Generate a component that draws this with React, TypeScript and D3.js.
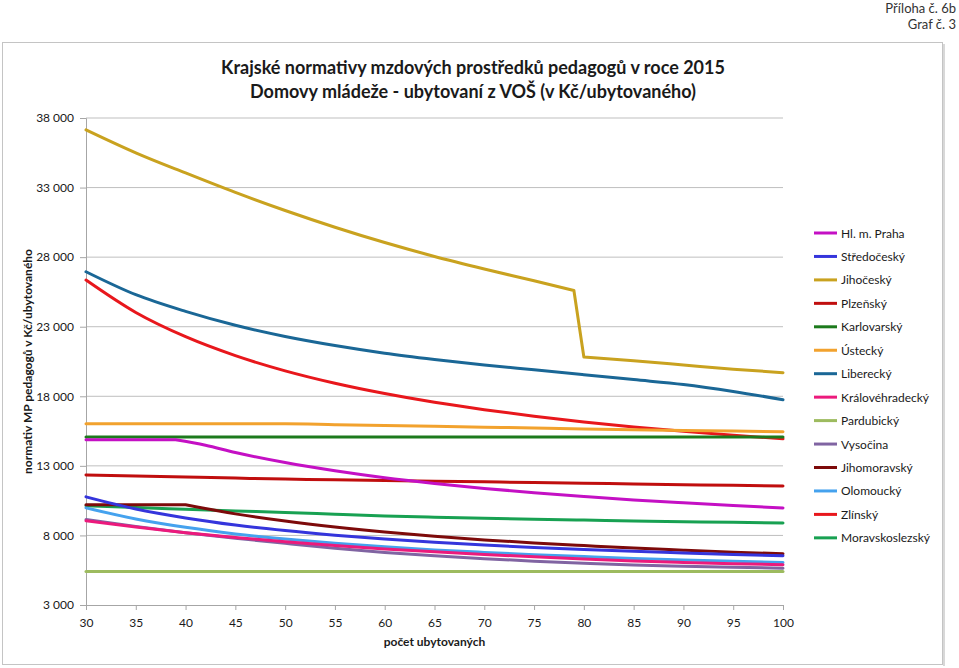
import { useEffect, useRef } from "react";
import * as d3 from "d3";

// x values (počet ubytovaných)
const X_BASE = [30, 35, 40, 45, 50, 55, 60, 65, 70, 75, 80, 85, 90, 95, 100];
const X_JIHOCESKY = [30, 35, 40, 45, 50, 55, 60, 65, 70, 75, 79, 80, 85, 90, 95, 100];
const X_PRAHA = [30, 35, 39, 42, 45, 50, 55, 60, 65, 70, 75, 80, 85, 90, 95, 100];

const PRAHA = [14870, 14870, 14870, 14480, 13960, 13240, 12650, 12150, 11740, 11380, 11070, 10800, 10550, 10340, 10150, 9980];
const STREDOCESKY = [10770, 9900, 9260, 8750, 8350, 8020, 7740, 7510, 7310, 7140, 6990, 6860, 6740, 6630, 6535];
const JIHOCESKY = [37150, 35500, 34050, 32650, 31350, 30150, 29050, 28050, 27150, 26300, 25600, 20830, 20550, 20250, 19950, 19700];
const PLZENSKY = [12350, 12270, 12200, 12120, 12050, 12000, 11950, 11900, 11850, 11800, 11750, 11700, 11650, 11600, 11560];
const KARLOVARSKY = [15080, 15080, 15080, 15080, 15080, 15080, 15080, 15080, 15080, 15080, 15080, 15080, 15080, 15080, 15080];
const USTECKY = [16020, 16020, 16020, 16020, 16020, 15960, 15900, 15840, 15780, 15720, 15650, 15600, 15550, 15500, 15450];
const LIBERECKY = [26950, 25300, 24100, 23100, 22300, 21650, 21100, 20650, 20250, 19900, 19550, 19200, 18850, 18350, 17750];
const KRALOVEHRADECKY = [9050, 8600, 8200, 7850, 7550, 7280, 7030, 6820, 6630, 6460, 6310, 6170, 6060, 5970, 5890];
const PARDUBICKY = [5410, 5410, 5410, 5410, 5410, 5410, 5410, 5410, 5410, 5410, 5410, 5410, 5410, 5410, 5410];
const VYSOCINA = [9150, 8650, 8200, 7800, 7430, 7080, 6780, 6540, 6330, 6150, 6000, 5870, 5780, 5710, 5650];
const JIHOMORAVSKY = [10200, 10200, 10200, 9550, 9030, 8600, 8240, 7940, 7680, 7460, 7270, 7090, 6940, 6800, 6680];
const OLOMOUCKY = [9980, 9180, 8580, 8110, 7740, 7430, 7180, 6960, 6780, 6620, 6480, 6350, 6240, 6140, 6055];
const ZLINSKY = [26350, 24020, 22280, 20920, 19830, 18940, 18200, 17570, 17040, 16570, 16160, 15800, 15480, 15200, 14940];
const MORAVSKOSLEZSKY = [10130, 10000, 9880, 9760, 9650, 9520, 9400, 9310, 9230, 9160, 9100, 9040, 8990, 8940, 8900];

const Y_TICKS = [3000, 8000, 13000, 18000, 23000, 28000, 33000, 38000];
const X_TICKS = [30, 35, 40, 45, 50, 55, 60, 65, 70, 75, 80, 85, 90, 95, 100];

// splits: indices of points where the curve has a sharp corner
type Series = { name: string; color: string; xs: number[]; ys: number[]; splits?: number[] };

const SERIES: Series[] = [
  { name: "Hl. m. Praha", color: "#C410C4", xs: X_PRAHA, ys: PRAHA, splits: [2] },
  { name: "Středočeský", color: "#3535DC", xs: X_BASE, ys: STREDOCESKY },
  { name: "Jihočeský", color: "#C9A21F", xs: X_JIHOCESKY, ys: JIHOCESKY, splits: [10, 11] },
  { name: "Plzeňský", color: "#C00E0E", xs: X_BASE, ys: PLZENSKY },
  { name: "Karlovarský", color: "#1C7A1C", xs: X_BASE, ys: KARLOVARSKY },
  { name: "Ústecký", color: "#F2A22E", xs: X_BASE, ys: USTECKY },
  { name: "Liberecký", color: "#1A6796", xs: X_BASE, ys: LIBERECKY },
  { name: "Královéhradecký", color: "#EC1A7C", xs: X_BASE, ys: KRALOVEHRADECKY },
  { name: "Pardubický", color: "#9DBB5F", xs: X_BASE, ys: PARDUBICKY },
  { name: "Vysočina", color: "#8064A2", xs: X_BASE, ys: VYSOCINA },
  { name: "Jihomoravský", color: "#7D0A0A", xs: X_BASE, ys: JIHOMORAVSKY, splits: [2] },
  { name: "Olomoucký", color: "#45A2EE", xs: X_BASE, ys: OLOMOUCKY },
  { name: "Zlínský", color: "#E8171C", xs: X_BASE, ys: ZLINSKY },
  { name: "Moravskoslezský", color: "#18A152", xs: X_BASE, ys: MORAVSKOSLEZSKY },
];

const FONT = "Lato, 'Open Sans', sans-serif";

export default function App() {
  const svgRef = useRef<SVGSVGElement | null>(null);

  useEffect(() => {
    if (!svgRef.current) return;
    const W = 959, H = 668;
    const svg = d3.select(svgRef.current);
    svg.selectAll("*").remove();
    svg.attr("width", W).attr("height", H).attr("viewBox", `0 0 ${W} ${H}`);

    svg.append("rect").attr("width", W).attr("height", H).attr("fill", "#fff");

    // page header
    svg.append("text").attr("x", 956).attr("y", 13).attr("text-anchor", "end")
      .attr("font-family", FONT).attr("font-size", 13).attr("fill", "#333").text("Příloha č. 6b");
    svg.append("text").attr("x", 956).attr("y", 29).attr("text-anchor", "end")
      .attr("font-family", FONT).attr("font-size", 13).attr("fill", "#333").text("Graf č. 3");

    // chart frame
    svg.append("rect").attr("x", 2.5).attr("y", 42.5).attr("width", 940).attr("height", 622)
      .attr("fill", "none").attr("stroke", "#c4c4c4").attr("stroke-width", 1);
    svg.append("line").attr("x1", 944).attr("x2", 944).attr("y1", 44).attr("y2", 666)
      .attr("stroke", "#d8d8d8").attr("stroke-width", 2);

    // titles
    svg.append("text").attr("x", 473).attr("y", 74).attr("text-anchor", "middle")
      .attr("font-family", FONT).attr("font-weight", 700).attr("font-size", 18).attr("fill", "#1a1a1a")
      .text("Krajské normativy mzdových prostředků pedagogů v roce 2015");
    svg.append("text").attr("x", 473).attr("y", 98).attr("text-anchor", "middle")
      .attr("font-family", FONT).attr("font-weight", 700).attr("font-size", 18).attr("fill", "#1a1a1a")
      .text("Domovy mládeže - ubytovaní z VOŠ (v Kč/ubytovaného)");

    const left = 86, right = 783, top = 118, bottom = 605;
    const x = d3.scaleLinear().domain([30, 100]).range([left, right]);
    const y = d3.scaleLinear().domain([3000, 38000]).range([bottom, top]);

    // gridlines
    svg.append("g").selectAll("line").data(Y_TICKS.slice(1)).join("line")
      .attr("x1", left).attr("x2", right)
      .attr("y1", (d) => y(d)).attr("y2", (d) => y(d))
      .attr("stroke", "#bfbfbf").attr("stroke-width", 1);

    // y axis
    const yAxis = svg.append("g").attr("transform", `translate(${left},0)`)
      .call(d3.axisLeft(y).tickValues(Y_TICKS).tickSize(6).tickPadding(6)
        .tickFormat((d) => d3.format(",")(d as number).replace(/,/g, " ")));
    yAxis.select(".domain").attr("stroke", "#a6a6a6");
    yAxis.selectAll(".tick line").attr("stroke", "#a6a6a6");
    yAxis.selectAll("text").attr("font-family", FONT).attr("font-size", 12).attr("fill", "#1a1a1a");

    // x axis
    const xAxis = svg.append("g").attr("transform", `translate(0,${bottom})`)
      .call(d3.axisBottom(x).tickValues(X_TICKS).tickSize(5).tickSizeOuter(0).tickPadding(8));
    xAxis.select(".domain").attr("stroke", "#a6a6a6");
    xAxis.selectAll(".tick line").attr("stroke", "#a6a6a6");
    xAxis.selectAll("text").attr("font-family", FONT).attr("font-size", 12).attr("fill", "#1a1a1a");

    // axis titles
    svg.append("text").attr("x", (left + right) / 2).attr("y", 646).attr("text-anchor", "middle")
      .attr("font-family", FONT).attr("font-weight", 700).attr("font-size", 12).attr("fill", "#1a1a1a")
      .text("počet ubytovaných");
    svg.append("text").attr("transform", `translate(32,${(top + bottom) / 2}) rotate(-90)`)
      .attr("text-anchor", "middle")
      .attr("font-family", FONT).attr("font-weight", 700).attr("font-size", 12).attr("fill", "#1a1a1a")
      .text("normativ MP pedagogů v Kč/ubytovaného");

    // lines: smooth pieces, split at the sharp corners
    const smooth = d3.line<[number, number]>()
      .x((d) => x(d[0])).y((d) => y(d[1]))
      .curve(d3.curveMonotoneX);
    const drawOrder = [...SERIES].reverse();
    for (const s of drawOrder) {
      const pts = s.xs.map((xv, i) => [xv, s.ys[i]] as [number, number]);
      const cuts = [0, ...(s.splits ?? []), pts.length - 1];
      const d = cuts.slice(1).map((c, i) => smooth(pts.slice(cuts[i], c + 1)) ?? "").join("");
      svg.append("path").attr("d", d)
        .attr("fill", "none").attr("stroke", s.color).attr("stroke-width", 3)
        .attr("stroke-linejoin", "round").attr("stroke-linecap", "round");
    }

    // legend
    const lg = svg.append("g").attr("transform", "translate(814,233)");
    SERIES.forEach((s, i) => {
      const ly = i * 23.45;
      lg.append("line").attr("x1", 0).attr("x2", 23).attr("y1", ly).attr("y2", ly)
        .attr("stroke", s.color).attr("stroke-width", 3);
      lg.append("text").attr("x", 27).attr("y", ly + 4.5)
        .attr("font-family", FONT).attr("font-size", 12).attr("fill", "#1a1a1a").text(s.name);
    });
  }, []);

  return (
    <svg ref={svgRef} style={{ position: "absolute", left: 0, top: 0, display: "block" }} />
  );
}
